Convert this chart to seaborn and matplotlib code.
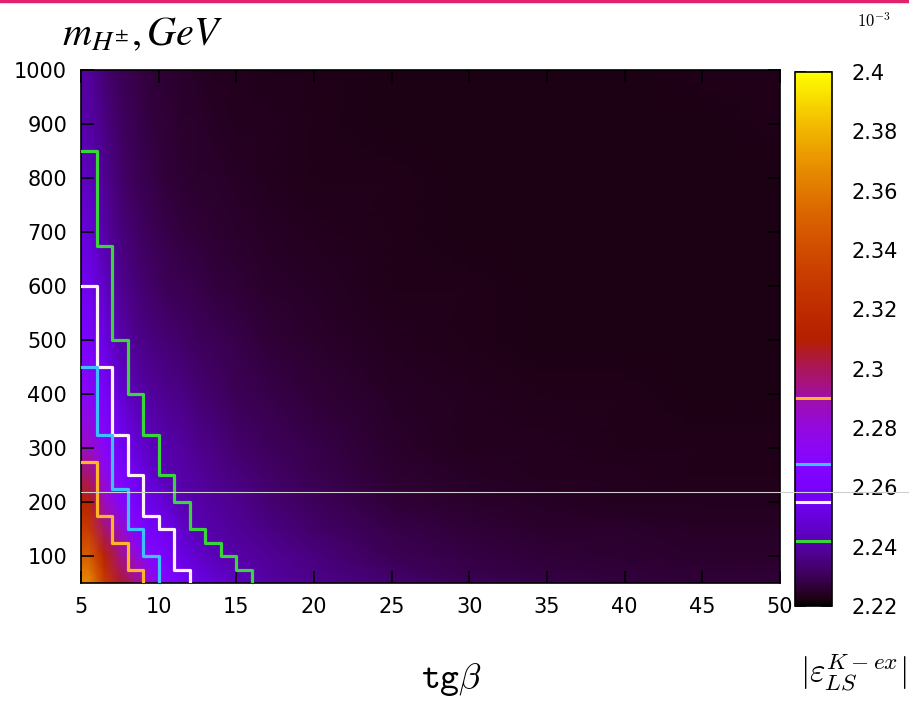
import numpy as np
import matplotlib
matplotlib.use("Agg")
import matplotlib.pyplot as plt
from matplotlib.lines import Line2D
import seaborn as sns

# positions (tg beta, charged Higgs mass) where the colour of the map was read
tgb_nodes = [5, 5.5, 6.5, 7.5, 8.5, 9.5, 10.5, 11.5, 12.5, 13.5, 15, 17, 20, 25, 30, 35, 40, 45, 50]
mass_nodes = [50, 75, 100, 150, 200, 250, 300, 400, 500, 600, 700, 800, 900, 1000]

# |eps_K| above 2.22e-3, in units of 1e-6 (one row per mass node)
eps_offset = [
    [145, 145, 110, 86, 74, 60, 47, 39, 33, 29, 25, 20, 17, 13, 10, 8.5, 7.5, 7, 6.5],
    [138, 138, 102, 80, 70, 54, 44, 35, 30, 26, 22.5, 19.5, 16, 11.5, 9, 7.5, 6.8, 6.3, 6],
    [128, 128, 94, 75, 61, 48, 41, 32, 27, 23.5, 21, 18.5, 15, 10.5, 8, 6.8, 6, 5.6, 5.3],
    [110, 110, 78, 64, 48, 38, 35, 26.5, 22.5, 21, 18.5, 16, 12.5, 8.5, 6.5, 5.5, 5, 4.6, 4.4],
    [93, 93, 66, 52, 41, 32.5, 28, 22, 20.5, 19, 17, 14, 11, 7, 5.5, 4.6, 4.2, 3.9, 3.7],
    [78, 78, 57, 44, 35, 28, 22, 21, 19, 17, 15, 12.5, 9.5, 6, 4.8, 4, 3.6, 3.4, 3.3],
    [64, 64, 51, 38, 30, 24, 21.5, 20, 17.5, 15.5, 13, 11, 8.5, 5.5, 4.2, 3.6, 3.3, 3.1, 3],
    [52, 52, 40, 29, 22, 19, 17, 16, 14, 12.5, 10.5, 9, 6.5, 4.5, 3.6, 3.1, 2.9, 2.8, 2.7],
    [42, 42, 32, 22, 17.5, 15, 13.5, 12.5, 11, 10, 8.5, 7, 5.5, 3.8, 3.2, 2.8, 2.6, 2.6, 2.6],
    [35, 35, 26, 18, 14.5, 12, 10.5, 9.5, 8.5, 7.5, 6.5, 5.5, 4.3, 3.3, 2.9, 2.6, 2.5, 2.5, 2.6],
    [29, 29, 21, 15, 12, 10, 8.5, 7.5, 6.5, 6, 5.3, 4.7, 3.8, 3, 2.7, 2.5, 2.5, 2.6, 2.7],
    [24.5, 24.5, 18, 13, 10.5, 8.5, 7, 6, 5.5, 5, 4.5, 4, 3.5, 2.9, 2.6, 2.5, 2.6, 2.7, 2.8],
    [20.5, 20.5, 16, 11.5, 9.5, 7.5, 6.5, 5.5, 5, 4.5, 4, 3.7, 3.3, 2.8, 2.6, 2.6, 2.7, 2.8, 3],
    [19, 19, 14, 10.5, 8.5, 7, 6, 5, 4.5, 4, 3.8, 3.5, 3.2, 2.8, 2.7, 2.7, 2.8, 3, 3.2],
]

# step contours: upper mass edge in each 1-wide tg(beta) column, first column starts at 5
contour_levels = [2.242, 2.255, 2.268, 2.29]
contour_colors = ['#3ad53a', '#fff0f4', '#3cc0ff', '#ffb52a']
green_tops = [850, 675, 500, 400, 325, 250, 200, 150, 125, 100, 75]
white_tops = [600, 450, 325, 250, 175, 150, 75]
cyan_tops = [450, 325, 225, 150, 100]
yellow_tops = [275, 175, 125, 75]

x_ticks = [5, 10, 15, 20, 25, 30, 35, 40, 45, 50]
y_ticks = [100, 200, 300, 400, 500, 600, 700, 800, 900, 1000]
cbar_ticks = [2.22, 2.24, 2.26, 2.28, 2.30, 2.32, 2.34, 2.36, 2.38, 2.40]

sns.set_theme(style="ticks")
plt.rcParams['font.family'] = ['DejaVu Sans']
plt.rcParams['mathtext.fontset'] = 'cm'
plt.rcParams['text.color'] = 'black'
plt.rcParams['xtick.color'] = 'black'
plt.rcParams['ytick.color'] = 'black'
plt.rcParams['axes.edgecolor'] = 'black'

eps = 2.22 + np.array(eps_offset) / 1000.0

fig = plt.figure(figsize=(9.09, 7.07), dpi=100)
ax = fig.add_axes([81 / 909, 1 - 583 / 707, 699 / 909, 513 / 707])
cax = fig.add_axes([795 / 909, 1 - 606 / 707, 37 / 909, 534 / 707])

mesh = ax.pcolormesh(tgb_nodes, mass_nodes, eps, shading='gouraud',
                     cmap='gnuplot', vmin=2.22, vmax=2.40)

all_tops = [green_tops, white_tops, cyan_tops, yellow_tops]
for tops, col in zip(all_tops, contour_colors):
    xs = np.arange(5, 5 + len(tops) + 1)
    ys = tops + [50]
    ax.step(xs, ys, where='post', color=col, lw=2.3, zorder=3)

ax.set_xlim(5, 50)
ax.set_ylim(50, 1000)
ax.set_xticks(x_ticks)
ax.set_yticks(y_ticks)
ax.set_axisbelow(False)
ax.tick_params(direction='in', top=True, right=True, length=9, width=1.2,
               labelsize=15, pad=10)
for sp in ax.spines.values():
    sp.set_linewidth(1.2)

cb = fig.colorbar(mesh, cax=cax, ticks=cbar_ticks)
cb.ax.set_yticklabels(['%g' % round(t, 2) for t in cbar_ticks])
cb.outline.set_linewidth(1.2)
cax.tick_params(direction='in', left=True, right=True, length=8, width=1.2,
                labelsize=15, pad=14)
for lev, col in zip(contour_levels, contour_colors):
    cax.axhline(lev, color=col, lw=2.2)

fig.text(62 / 909, 1 - 45 / 707, r'$m_{H^{\pm}}, GeV$', fontsize=29,
         math_fontfamily='stix', va='baseline', ha='left')
fig.text(452 / 909, 1 - 680 / 707, r'$\mathtt{tg}\beta$', fontsize=26,
         ha='center', va='center')
fig.text(907 / 909, 1 - 672 / 707, r'$|\varepsilon_{LS}^{K-ex}|$', fontsize=24,
         ha='right', va='center')
fig.text(874 / 909, 1 - 22 / 707, r'$10^{-3}$', fontsize=12, ha='center', va='center')

# thin screen-capture lines seen in the picture
fig.add_artist(Line2D([81 / 909, 1], [1 - 492 / 707] * 2, color='#cfcfcf', lw=0.8))
fig.add_artist(Line2D([0, 1], [0.998, 0.998], color='#e2226c', lw=2.5))

fig.savefig('out.png', dpi=100)
